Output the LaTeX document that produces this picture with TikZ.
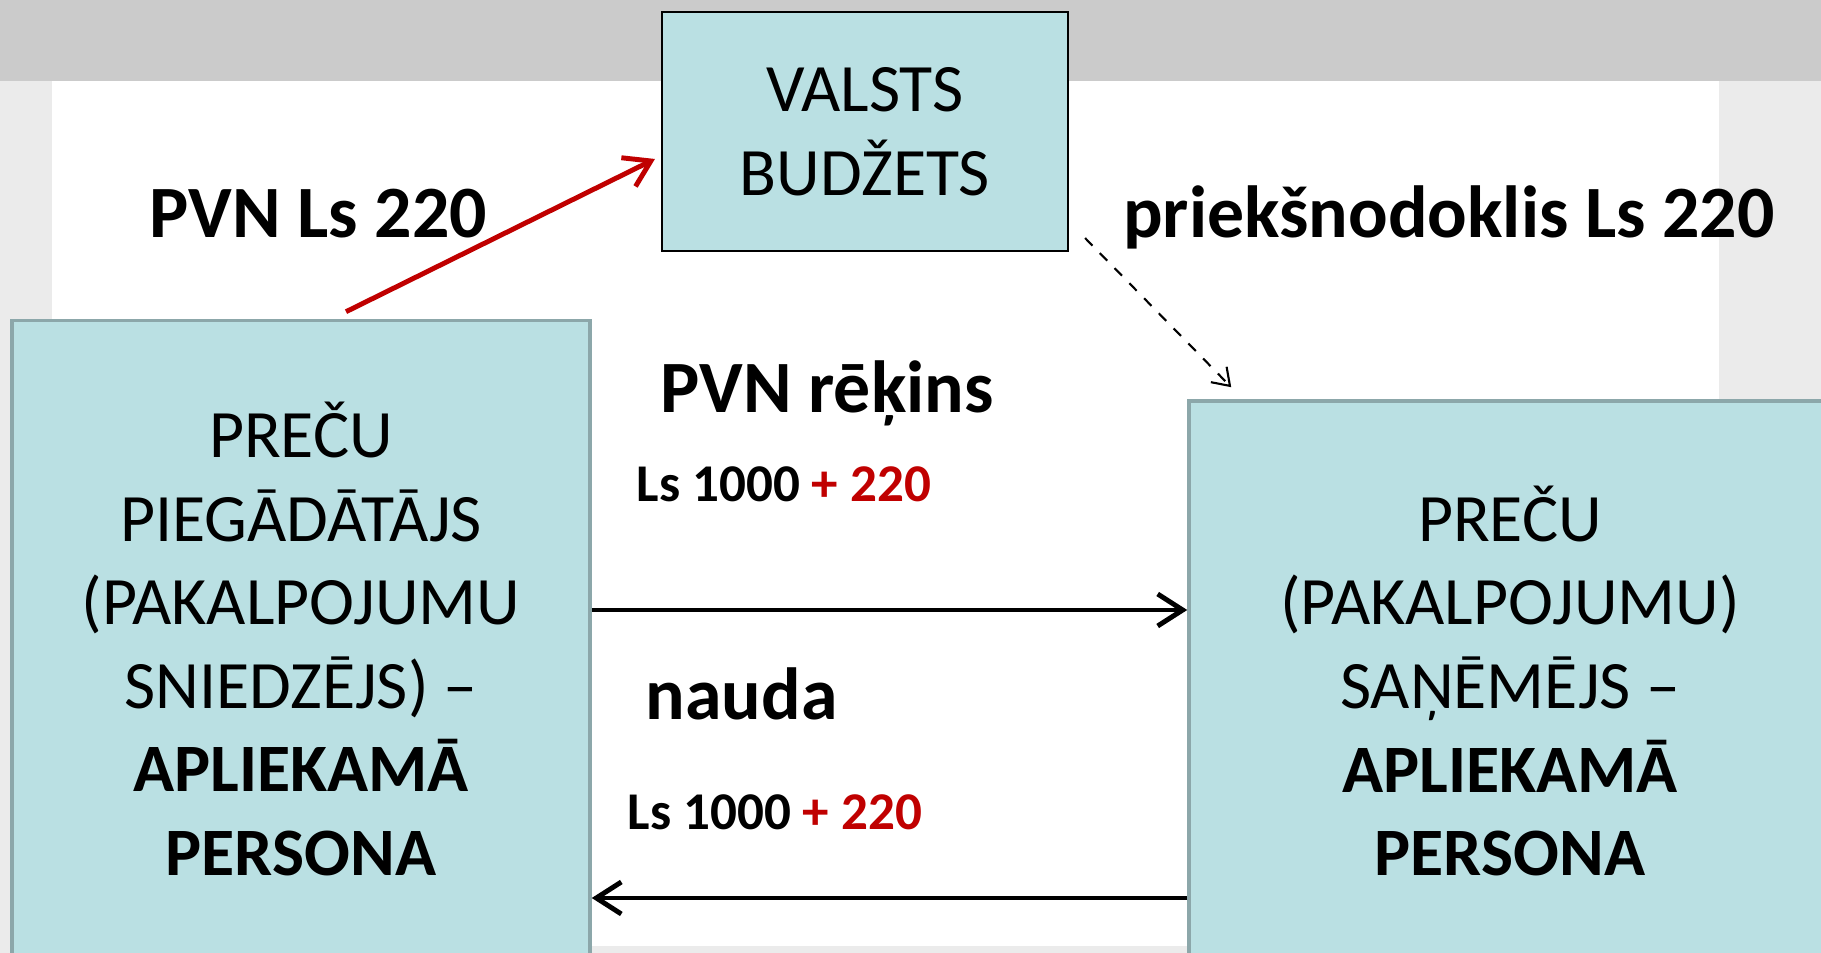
\documentclass[tikz,border=0pt]{standalone}
\usepackage{fontspec}
\setmainfont{Carlito}
\usetikzlibrary{arrows.meta}

\definecolor{boxfill}{HTML}{BAE0E3}
\definecolor{boxline}{HTML}{8CA7AA}
\definecolor{vatred}{HTML}{C00000}
\definecolor{band}{HTML}{CBCBCB}
\definecolor{margin}{HTML}{EBEBEB}

\begin{document}
\begin{tikzpicture}[
        >={Straight Barb[length=2.5mm,width=3.2mm]},
        box/.style={draw=boxline, line width=1pt, fill=boxfill, align=center,
                    font=\fontsize{19.3}{23.8}\selectfont},
        lbl/.style={inner sep=0pt, font=\fontsize{21}{25}\selectfont\bfseries},
        sum/.style={inner sep=0pt, font=\fontsize{15.1}{18}\selectfont\bfseries}]
    \useasboundingbox (0,0) rectangle (18.21,9.53);
    % slide background
    \fill[margin] (0,0)    rectangle (18.21,9.53);
    \fill[white]  (0.52,0.07) rectangle (17.19,8.72);
    \fill[band]   (0,8.72) rectangle (18.21,9.53);

    \node[box, minimum width=5.78cm, minimum height=6.37cm] (P) at (3.01,3.14)
        {PREČU\\PIEGĀDĀTĀJS\\(PAKALPOJUMU\\SNIEDZĒJS) –\\\textbf{APLIEKAMĀ}\\\textbf{PERSONA}};
    \node[box, minimum width=6.42cm, minimum height=5.60cm] (S) at (15.10,2.72)
        {PREČU\\(PAKALPOJUMU)\\SAŅĒMĒJS –\\\textbf{APLIEKAMĀ}\\\textbf{PERSONA}};
    \node[box, draw=black, line width=0.6pt, minimum width=4.06cm, minimum height=2.39cm] (B) at (8.65,8.215)
        {VALSTS\\BUDŽETS};

    \node[lbl, anchor=base]      (V)  at (3.185,7.15) {PVN Ls 220};
    \node[lbl, anchor=base]      (K)  at (14.49,7.15) {priekšnodoklis Ls 220};
    \node[lbl, anchor=base west] (R)  at (6.60,5.40)  {PVN rēķins};
    \node[sum, anchor=base west] (R1) at (6.36,4.51)  {Ls 1000 \textcolor{vatred}{+ 220}};
    \node[lbl, anchor=base west] (N)  at (6.45,2.33)  {nauda};
    \node[sum, anchor=base west] (N1) at (6.27,1.23)  {Ls 1000 \textcolor{vatred}{+ 220}};

    \draw [->, vatred, line width=1.4pt] ([xshift=4.5mm,yshift=0.7mm]P.north) -- ([xshift=-0.6mm,yshift=-2.75mm]B.west);
    \draw [->, dashed, line width=0.6pt, >={Straight Barb[length=1.6mm,width=2.2mm]}]
        ([xshift=1.6mm,yshift=1.4mm]B.south east) -- ([xshift=4.4mm,yshift=1.2mm]S.north west);
    \draw [->, line width=1.4pt] (P.east |- 0,3.43) -- (S.west |- 0,3.43);
    \draw [->, line width=1.4pt] (S.west |- 0,0.55) -- (P.east |- 0,0.55);
\end{tikzpicture}
\end{document}
